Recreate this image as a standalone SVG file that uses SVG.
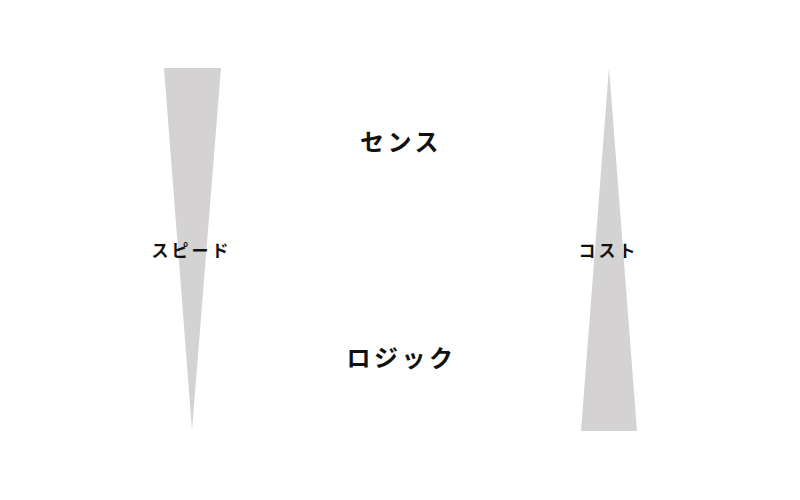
<svg xmlns="http://www.w3.org/2000/svg" width="800" height="500" viewBox="0 0 800 500">
<style>
.tri{fill:#d4d2d3}
.t{font-family:"Noto Sans CJK JP","Noto Sans",sans-serif;font-weight:bold;fill:#111;text-anchor:middle}
.big{font-size:24px;letter-spacing:3.5px}
.small{font-size:17px;letter-spacing:3px}
</style>
<rect width="800" height="500" fill="#ffffff"/>
<g id="speed">
<polygon class="tri" points="164,68 221,68 192,430"/>
<text class="t small" x="191.5" y="257">スピード</text>
</g>
<g id="cost">
<polygon class="tri" points="609,68 637,431 581,431"/>
<text class="t small" x="608.5" y="257">コスト</text>
</g>
<g id="sense">
<text class="t big" x="401" y="151">センス</text>
</g>
<g id="logic">
<text class="t big" x="401.5" y="367">ロジック</text>
</g>
<g id="connectors"></g>
</svg>
